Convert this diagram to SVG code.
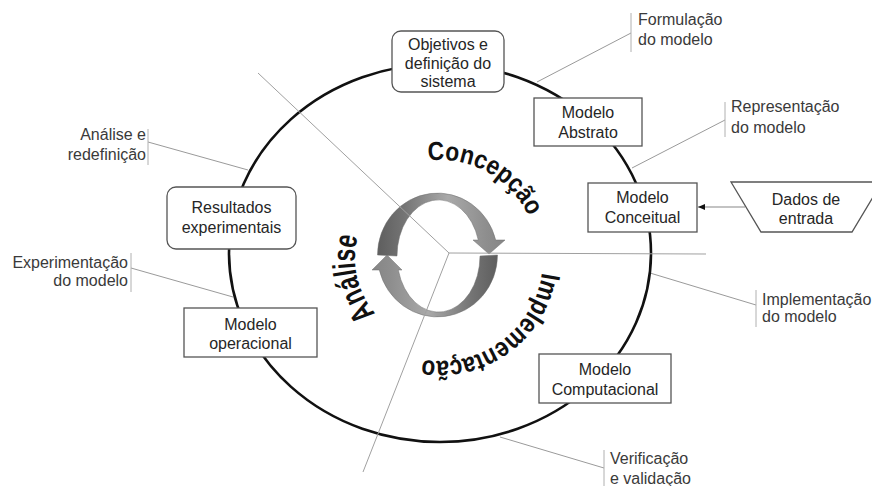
<svg xmlns="http://www.w3.org/2000/svg" xmlns:xlink="http://www.w3.org/1999/xlink" width="872" height="486" viewBox="0 0 872 486">
<style>
  .box { fill: #fff; stroke: #555; stroke-width: 1.3; }
  .bt { font-family: "Liberation Sans", Arial, sans-serif; font-size: 16px; fill: #262626; text-anchor: middle; }
  .lbl { font-family: "Liberation Sans", Arial, sans-serif; font-size: 16px; fill: #3a3a3a; }
  .lead { stroke: #9a9a9a; stroke-width: 1; fill: none; }
  .bar { stroke: #b0b0b0; stroke-width: 1; }
  .ray { stroke: #a0a0a0; stroke-width: 1; fill: none; }
  .big { font-family: "Liberation Sans", Arial, sans-serif; font-weight: bold; fill: #111; }
</style>
<defs>
  <linearGradient id="gA" x1="0" y1="0" x2="1" y2="0">
    <stop offset="0" stop-color="#5e5e5e"/>
    <stop offset="0.2" stop-color="#737373"/>
    <stop offset="0.55" stop-color="#a9a9a9"/>
    <stop offset="0.85" stop-color="#8e8e8e"/>
    <stop offset="1" stop-color="#858585"/>
  </linearGradient>
  <linearGradient id="gB" x1="1" y1="0" x2="0" y2="0">
    <stop offset="0" stop-color="#5e5e5e"/>
    <stop offset="0.2" stop-color="#737373"/>
    <stop offset="0.55" stop-color="#a9a9a9"/>
    <stop offset="0.85" stop-color="#8e8e8e"/>
    <stop offset="1" stop-color="#858585"/>
  </linearGradient>
  <marker id="ah" markerWidth="8" markerHeight="8" refX="7" refY="4" orient="auto" markerUnits="userSpaceOnUse">
    <path d="M0,1 L7,4 L0,7 Z" fill="#111"/>
  </marker>
  <path id="pConc" d="M404.9,166.5 A98,98 0 0 1 536.2,239.3"/>
  <path id="pAnal" d="M401.4,333.7 A85,85 0 0 1 372.1,206.8"/>
  <path id="pImpl" d="M543,258 A103,103 0 0 1 408.2,356"/>
</defs>

<g id="connectors">
  <line class="lead" x1="631" y1="33" x2="537" y2="82"/>
  <line class="bar" x1="631" y1="13" x2="631" y2="52"/>
  <line class="lead" x1="725" y1="120" x2="632" y2="168"/>
  <line class="bar" x1="725" y1="102" x2="725" y2="137"/>
  <line class="lead" x1="148" y1="142" x2="248" y2="170"/>
  <line class="bar" x1="148" y1="129" x2="148" y2="165"/>
  <line class="lead" x1="131" y1="268" x2="233" y2="297"/>
  <line class="bar" x1="131" y1="253" x2="131" y2="292"/>
  <line class="lead" x1="756" y1="305" x2="650" y2="273"/>
  <line class="bar" x1="756" y1="290" x2="756" y2="327"/>
  <line class="lead" x1="604" y1="468" x2="500" y2="437"/>
  <line class="bar" x1="604" y1="450" x2="604" y2="486"/>
  <ellipse cx="440" cy="253" rx="211" ry="189" fill="none" stroke="#111" stroke-width="2.6"/>
  <line x1="745" y1="207" x2="698" y2="207" stroke="#888" stroke-width="1.2" marker-end="url(#ah)"/>
</g>

<g id="cycle-arrows">
  <path d="M377.5,255 A60,62 0 0 1 495.7,240 L505,240 L489,254 L473,240 L478.3,240 A41.5,56 0 0 0 397,256 Z" fill="url(#gA)" stroke="#6f6f6f" stroke-width="0.5"/>
  <path d="M497.5,255 A60,62 0 0 1 379.3,270 L372,270 L387,255 L402,270 L398.3,270 A41.5,56 0 0 0 480,256 Z" fill="url(#gB)" stroke="#6f6f6f" stroke-width="0.5"/>
</g>

<g id="rays">
  <line class="ray" x1="258" y1="73" x2="449" y2="253"/>
  <line class="ray" x1="449" y1="253" x2="706" y2="254"/>
  <line class="ray" x1="449" y1="253" x2="363" y2="472"/>
</g>

<g id="phase-labels">
  <text class="big" font-size="26"><textPath href="#pConc" xlink:href="#pConc" startOffset="50%" text-anchor="middle" textLength="123" lengthAdjust="spacingAndGlyphs">Concepção</textPath></text>
  <text class="big" font-size="32"><textPath href="#pAnal" xlink:href="#pAnal" startOffset="50%" text-anchor="middle" textLength="82" lengthAdjust="spacingAndGlyphs">Análise</textPath></text>
  <text class="big" font-size="27"><textPath href="#pImpl" xlink:href="#pImpl" startOffset="50%" text-anchor="middle" textLength="165" lengthAdjust="spacingAndGlyphs">Implementação</textPath></text>
</g>

<g id="objetivos">
  <rect class="box" x="392" y="31" width="112" height="61" rx="9"/>
  <text class="bt" x="448" y="49.5">Objetivos e</text>
  <text class="bt" x="448" y="68.5">definição do</text>
  <text class="bt" x="448" y="87">sistema</text>
</g>
<g id="modelo-abstrato">
  <rect class="box" x="534" y="98" width="108" height="48"/>
  <text class="bt" x="588" y="118">Modelo</text>
  <text class="bt" x="588" y="138">Abstrato</text>
</g>
<g id="modelo-conceitual">
  <rect class="box" x="588" y="183" width="109" height="49"/>
  <text class="bt" x="642.5" y="203">Modelo</text>
  <text class="bt" x="642.5" y="223">Conceitual</text>
</g>
<g id="dados-entrada">
  <polygon class="box" points="731,182 882,182 852,232 761,232"/>
  <text class="bt" x="806" y="205">Dados de</text>
  <text class="bt" x="806" y="224">entrada</text>
</g>
<g id="modelo-computacional">
  <rect class="box" x="539" y="354" width="132" height="49"/>
  <text class="bt" x="605" y="375">Modelo</text>
  <text class="bt" x="605" y="395">Computacional</text>
</g>
<g id="modelo-operacional">
  <rect class="box" x="184" y="308" width="133" height="49"/>
  <text class="bt" x="250.5" y="330">Modelo</text>
  <text class="bt" x="250.5" y="349">operacional</text>
</g>
<g id="resultados">
  <rect class="box" x="167" y="187" width="129" height="62" rx="9"/>
  <text class="bt" x="231.5" y="213">Resultados</text>
  <text class="bt" x="231.5" y="233">experimentais</text>
</g>

<g id="labels">
  <text class="lbl" x="638" y="25">Formulação</text>
  <text class="lbl" x="638" y="45">do modelo</text>
  <text class="lbl" x="731" y="112">Representação</text>
  <text class="lbl" x="731" y="133">do modelo</text>
  <text class="lbl" x="146" y="140" text-anchor="end">Análise e</text>
  <text class="lbl" x="146" y="160" text-anchor="end">redefinição</text>
  <text class="lbl" x="128" y="268" text-anchor="end" font-size="15.5">Experimentação</text>
  <text class="lbl" x="128" y="286" text-anchor="end" font-size="15.5">do modelo</text>
  <text class="lbl" x="762" y="305" font-size="15.5">Implementação</text>
  <text class="lbl" x="762" y="322" font-size="15.5">do modelo</text>
  <text class="lbl" x="610" y="464">Verificação</text>
  <text class="lbl" x="610" y="484">e validação</text>
</g>
</svg>
